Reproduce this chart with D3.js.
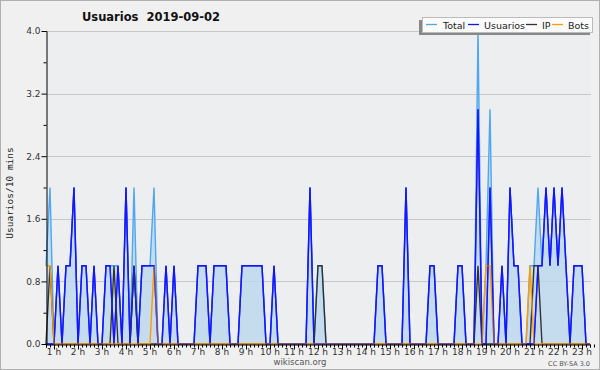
<!DOCTYPE html>
<html><head><meta charset="utf-8">
<script src="https://cdn.jsdelivr.net/npm/d3@7"></script>
<style>
html,body{margin:0;padding:0;background:#f0f0f0;}
svg{display:block;font-family:"DejaVu Sans",sans-serif;}
</style></head><body>
<script>
// 10-minute bins; bin i starts at minute 40 + 10*i
const startMinute = 40;
const stepMinutes = 10;
const total    = [1,2,0,1,0,1,1,2,0,1,1,0,1,0,0,1,1,1,1,0,2,0,2,0,1,1,1,2,0,0,1,0,1,0,0,0,0,0,1,1,1,0,1,1,1,1,0,0,0,1,1,1,1,1,1,0,0,1,0,0,0,0,0,0,0,0,2,0,1,1,0,0,0,0,0,0,0,0,0,0,0,0,0,1,1,0,0,0,0,0,2,0,0,0,0,0,1,1,0,0,0,0,0,1,1,0,0,0,4,0,1,3,0,0,1,0,2,1,1,0,0,1,1,2,1,2,1,2,1,2,1,0,1,1,1,0,0];
const usuarios = [0,0,0,1,0,1,1,2,0,1,1,0,1,0,0,1,1,0,1,0,2,0,1,0,1,1,1,1,0,0,1,0,1,0,0,0,0,0,1,1,1,0,1,1,1,1,0,0,0,1,1,1,1,1,1,0,0,1,0,0,0,0,0,0,0,0,2,0,0,0,0,0,0,0,0,0,0,0,0,0,0,0,0,1,1,0,0,0,0,0,2,0,0,0,0,0,1,1,0,0,0,0,0,1,1,0,0,0,3,0,0,2,0,0,1,0,2,1,1,0,0,0,0,1,1,2,1,2,1,2,1,0,1,1,1,0,0];
const ip       = [0,1,0,0,0,0,0,0,0,0,0,0,0,0,0,0,0,1,0,0,0,0,1,0,0,0,0,0,0,0,0,0,0,0,0,0,0,0,0,0,0,0,0,0,0,0,0,0,0,0,0,0,0,0,0,0,0,0,0,0,0,0,0,0,0,0,0,0,1,1,0,0,0,0,0,0,0,0,0,0,0,0,0,0,0,0,0,0,0,0,0,0,0,0,0,0,0,0,0,0,0,0,0,0,0,0,0,0,1,0,0,0,0,0,0,0,0,0,0,0,0,0,1,1,0,0,0,0,0,0,0,0,0,0,0,0,0];
const bots     = [1,1,0,0,0,0,0,0,0,0,0,0,0,0,0,0,0,0,0,0,0,0,0,0,0,0,0,1,0,0,0,0,0,0,0,0,0,0,0,0,0,0,0,0,0,0,0,0,0,0,0,0,0,0,0,0,0,0,0,0,0,0,0,0,0,0,0,0,0,0,0,0,0,0,0,0,0,0,0,0,0,0,0,0,0,0,0,0,0,0,0,0,0,0,0,0,0,0,0,0,0,0,0,0,0,0,0,0,0,0,1,1,0,0,0,0,0,0,0,0,0,1,0,0,0,0,0,0,0,0,0,0,0,0,0,0,0];
const yTicks = [0.0, 0.8, 1.6, 2.4, 3.2, 4.0];
const hourLabels = ["1 h","2 h","3 h","4 h","5 h","6 h","7 h","8 h","9 h","10 h","11 h","12 h","13 h","14 h","15 h","16 h","17 h","18 h","19 h","20 h","21 h","22 h","23 h"];
const seriesNames = ["Total","Usuarios","IP","Bots"];
const seriesColors = ["#4ea6f5","#1414ff","#333333","#ff9a00"];
const title = "Usuarios  2019-09-02";
const yTitle = "Usuarios/10 mins";

const W = 600, H = 370;
const L = 46, R = 591, T = 31, B = 344;
const svg = d3.select("body").append("svg").attr("width", W).attr("height", H);

svg.append("rect").attr("x",0.5).attr("y",0.5).attr("width",W-1).attr("height",H-1)
  .attr("fill","#f0f0f0").attr("stroke","#b0b0b0");
svg.append("rect").attr("x",L).attr("y",T).attr("width",R-L).attr("height",B-T).attr("fill","#eceef0");

const x = d3.scaleLinear().domain([startMinute, startMinute + stepMinutes*136]).range([L, 590]);
const y = d3.scaleLinear().domain([0, 4]).range([B, T]);
const tm = i => startMinute + stepMinutes*i;

// grid
svg.append("g").selectAll("line").data(yTicks.filter(v => v > 0)).join("line")
  .attr("x1", L).attr("x2", R).attr("y1", d => Math.round(y(d))+0.5).attr("y2", d => Math.round(y(d))+0.5)
  .attr("stroke","#c8c8c8").attr("stroke-width",1);

// total area
svg.append("path").datum(total)
  .attr("d", d3.area().x((d,i)=>x(tm(i))).y0(y(0)).y1(d=>y(d)))
  .attr("fill","#b8d5ef").attr("fill-opacity",0.75);

const lineGen = d3.line().x((d,i)=>x(tm(i))).y(d=>y(d));
[total, usuarios, ip, bots].forEach((s, k) => {
  svg.append("path").datum(s).attr("d", lineGen).attr("fill","none")
    .attr("stroke", seriesColors[k]).attr("stroke-width", 1.4).attr("stroke-linejoin","miter");
});
svg.append("path").datum(usuarios).attr("d", lineGen).attr("fill","none")
  .attr("stroke", seriesColors[1]).attr("stroke-width", 1.4).attr("stroke-opacity",0.6);

// axes
const isMajor = d => yTicks.some(t => Math.abs(t-d) < 1e-6);
const yAxis = d3.axisLeft(y).tickValues(d3.range(0, 4.01, 0.4)).tickSize(4)
  .tickFormat(d => isMajor(d) ? d.toFixed(1) : "");
const gy = svg.append("g").attr("transform", `translate(${L+0.5},0)`).call(yAxis);
gy.select(".domain").attr("stroke","#000");
gy.selectAll(".tick line").attr("stroke","#000").attr("x2", d => isMajor(d) ? -5 : -3);
gy.selectAll(".tick text").attr("font-size", 9).attr("fill","#333").attr("x",-6).attr("font-family","DejaVu Sans, sans-serif");

const minorTicks = d3.range(0, 137).map(tm).concat([tm(137)]);
const xAxis = d3.axisBottom(x).tickValues(minorTicks).tickSize(3).tickFormat("");
const gx = svg.append("g").attr("transform", `translate(0,${B+0.5})`).call(xAxis);
gx.select(".domain").attr("stroke","#000");
gx.selectAll(".tick line").attr("stroke","#000").attr("y2", d => d % 60 === 0 ? 5 : 3);

svg.append("g").selectAll("text").data(hourLabels).join("text")
  .attr("x", (d,i) => x((i+1)*60)).attr("y", 355)
  .attr("text-anchor","middle").attr("font-size", 9).attr("fill","#333").text(d => d);

// title
svg.append("text").attr("x", 151).attr("y", 21).attr("text-anchor","middle")
  .style("white-space","pre")
  .attr("font-size", 11.5).attr("font-weight","bold").attr("fill","#111").text(title);

// y title
svg.append("text").attr("transform","translate(13,193) rotate(-90)").attr("text-anchor","middle")
  .attr("font-family","DejaVu Sans Mono, monospace").attr("font-size", 9.5).attr("fill","#222").text(yTitle);

// legend
const lg = svg.append("g");
lg.append("rect").attr("x",419).attr("y",20).attr("width",171).attr("height",15).attr("fill","#888");
lg.append("rect").attr("x",422.5).attr("y",17.5).attr("width",170).attr("height",15).attr("fill","#fbfbfb").attr("stroke","#bbb");
const lx = [426, 468, 526, 552];
const tx = [443, 484, 542, 568];
seriesNames.forEach((n,k) => {
  lg.append("line").attr("x1", lx[k]).attr("x2", lx[k]+11).attr("y1",24.5).attr("y2",24.5)
    .attr("stroke", seriesColors[k]).attr("stroke-width",1.3);
  lg.append("text").attr("x", tx[k]).attr("y", 28.5).attr("font-size", 9.5).attr("fill","#222").text(n);
});

// footer
svg.append("text").attr("x", 300).attr("y", 365).attr("text-anchor","middle").attr("font-size", 8.5).attr("fill","#555").text("wikiscan.org");
svg.append("text").attr("x", 590).attr("y", 366).attr("text-anchor","end").attr("font-size", 6.5).attr("fill","#555").text("CC BY-SA 3.0");
</script>
</body></html>
